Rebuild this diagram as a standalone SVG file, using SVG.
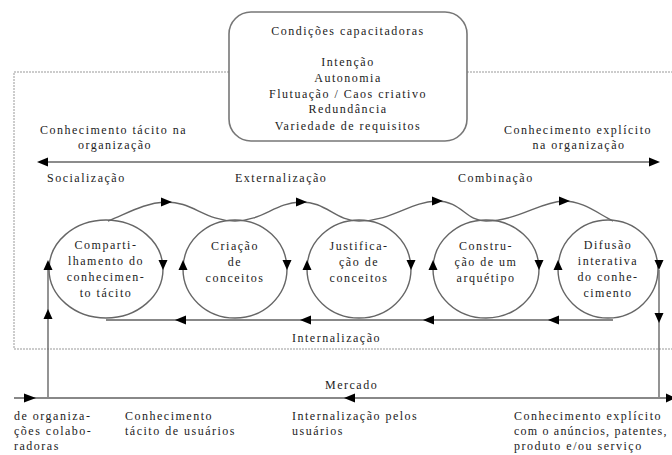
<svg xmlns="http://www.w3.org/2000/svg" width="672" height="455" viewBox="0 0 672 455">
<style>
text{font-family:"Liberation Serif","DejaVu Serif",serif;font-size:12px;letter-spacing:1.5px;fill:#222}
.m{text-anchor:middle}
.dot{fill:none;stroke:#999;stroke-width:1;stroke-dasharray:2 1}
.ln{fill:none;stroke:#666;stroke-width:1.4}
.thick{fill:none;stroke:#888;stroke-width:2.2}
.ah{fill:#000}
.node ellipse{fill:none;stroke:#666;stroke-width:1.4}
</style>
<rect width="672" height="455" fill="#fff"/>
<!-- dotted frame -->
<path class="dot" d="M229,72 H14 V349 H672 M467,72 H672"/>
<g id="conditions">
<rect x="229" y="12" width="238" height="129" rx="22" ry="22" fill="#fff" stroke="#777" stroke-width="1.6"/>
<text class="m" x="348" y="35">Condições capacitadoras</text>
<text class="m" x="348" y="66">Intenção</text>
<text class="m" x="348" y="82">Autonomia</text>
<text class="m" x="348" y="98">Flutuação / Caos criativo</text>
<text class="m" x="348" y="113">Redundância</text>
<text class="m" x="348" y="130">Variedade de requisitos</text>
</g>
<g id="labels">
<text x="40" y="134">Conhecimento tácito na</text>
<text class="m" x="115" y="149">organização</text>
<text x="504" y="134">Conhecimento explícito</text>
<text class="m" x="579" y="149">na organização</text>
<text x="47" y="182">Socialização</text>
<text x="235" y="182">Externalização</text>
<text x="458" y="182">Combinação</text>
<text x="292" y="342">Internalização</text>
<text x="325" y="389">Mercado</text>
<text x="14" y="420">de organiza-</text>
<text x="14" y="435">ções colabo-</text>
<text x="14" y="450">radoras</text>
<text x="125" y="420">Conhecimento</text>
<text x="125" y="435">tácito de usuários</text>
<text x="292" y="420">Internalização pelos</text>
<text x="292" y="435">usuários</text>
<text x="514" y="420">Conhecimento explícito</text>
<text x="514" y="435" style="letter-spacing:1.2px">com o anúncios, patentes,</text>
<text x="514" y="450">produto e/ou serviço</text>
</g>
<g id="n1" class="node">
<ellipse cx="106" cy="269" rx="57" ry="49"/>
<text class="m" x="106" y="249">Comparti-</text>
<text class="m" x="106" y="265">lhamento do</text>
<text class="m" x="106" y="281">conhecimen-</text>
<text class="m" x="106" y="297">to tácito</text>
</g>
<g id="n2" class="node">
<ellipse cx="235" cy="269" rx="52" ry="49"/>
<text class="m" x="235" y="250">Criação</text>
<text class="m" x="235" y="266">de</text>
<text class="m" x="235" y="282">conceitos</text>
</g>
<g id="n3" class="node">
<ellipse cx="359" cy="269" rx="52" ry="49"/>
<text class="m" x="359" y="250">Justifica-</text>
<text class="m" x="359" y="266">ção de</text>
<text class="m" x="359" y="282">conceitos</text>
</g>
<g id="n4" class="node">
<ellipse cx="486" cy="269" rx="53" ry="49"/>
<text class="m" x="486" y="250">Constru-</text>
<text class="m" x="486" y="266">ção de um</text>
<text class="m" x="486" y="282">arquétipo</text>
</g>
<g id="n5" class="node">
<ellipse cx="608" cy="269" rx="50" ry="49"/>
<text class="m" x="608" y="249">Difusão</text>
<text class="m" x="608" y="265">interativa</text>
<text class="m" x="608" y="281">do conhe-</text>
<text class="m" x="608" y="297">cimento</text>
</g>
<g id="connectors">
<!-- big double arrow -->
<path class="ln" d="M46,162 H650" stroke-width="1.8"/>
<polygon class="ah" points="37,162 48,157.5 48,166.5"/>
<polygon class="ah" points="660,162 649,157.5 649,166.5"/>
<!-- top wave -->
<path class="ln" d="M108,221 C130,212 145,203 165,202 C192,201 205,221 235,221 C262,221 275,203 300,202 C326,201 335,221 359,221 C392,221 410,202 436,201 C462,201 465,221 486,221 C517,221 540,202 563,201 C583,201 597,213 613,221"/>
<polygon class="ah" points="172,202 161,197.5 161,206.5"/>
<polygon class="ah" points="307,202 296,197.5 296,206.5"/>
<polygon class="ah" points="443,201 432,196.5 432,205.5"/>
<polygon class="ah" points="570,201 559,196.5 559,205.5"/>
<!-- circle side arrows: down on right, up on left -->
<polygon class="ah" points="163,270 158.5,260 167.5,260"/>
<polygon class="ah" points="287,270 282.5,260 291.5,260"/>
<polygon class="ah" points="411,270 406.5,260 415.5,260"/>
<polygon class="ah" points="539,270 534.5,260 543.5,260"/>
<polygon class="ah" points="659,270 654.5,260 663.5,260"/>
<polygon class="ah" points="48,260 43.5,270 52.5,270"/>
<polygon class="ah" points="183,260 178.5,270 187.5,270"/>
<polygon class="ah" points="307,260 302.5,270 311.5,270"/>
<polygon class="ah" points="433,260 428.5,270 437.5,270"/>
<polygon class="ah" points="558,260 553.5,270 562.5,270"/>
<!-- internalization line -->
<path class="thick" d="M613,320 H106"/>
<polygon class="ah" points="175,320 186,315.5 186,324.5"/>
<polygon class="ah" points="300,320 311,315.5 311,324.5"/>
<polygon class="ah" points="423,320 434,315.5 434,324.5"/>
<polygon class="ah" points="548,320 559,315.5 559,324.5"/>
<!-- verticals -->
<path class="ln" d="M48,398 V270"/>
<polygon class="ah" points="48,309 43.5,319 52.5,319"/>
<path class="ln" d="M659,270 V398"/>
<polygon class="ah" points="659,323 654.5,313 663.5,313"/>
<!-- market line -->
<path class="thick" d="M14,398 H672" stroke="#777" stroke-width="1.8"/>
<polygon class="ah" points="36,398 24,393.5 24,402.5"/>
<polygon class="ah" points="344,398 355,393.5 355,402.5"/>
<polygon class="ah" points="676,398 666,393.5 666,402.5"/>
</g>
</svg>
